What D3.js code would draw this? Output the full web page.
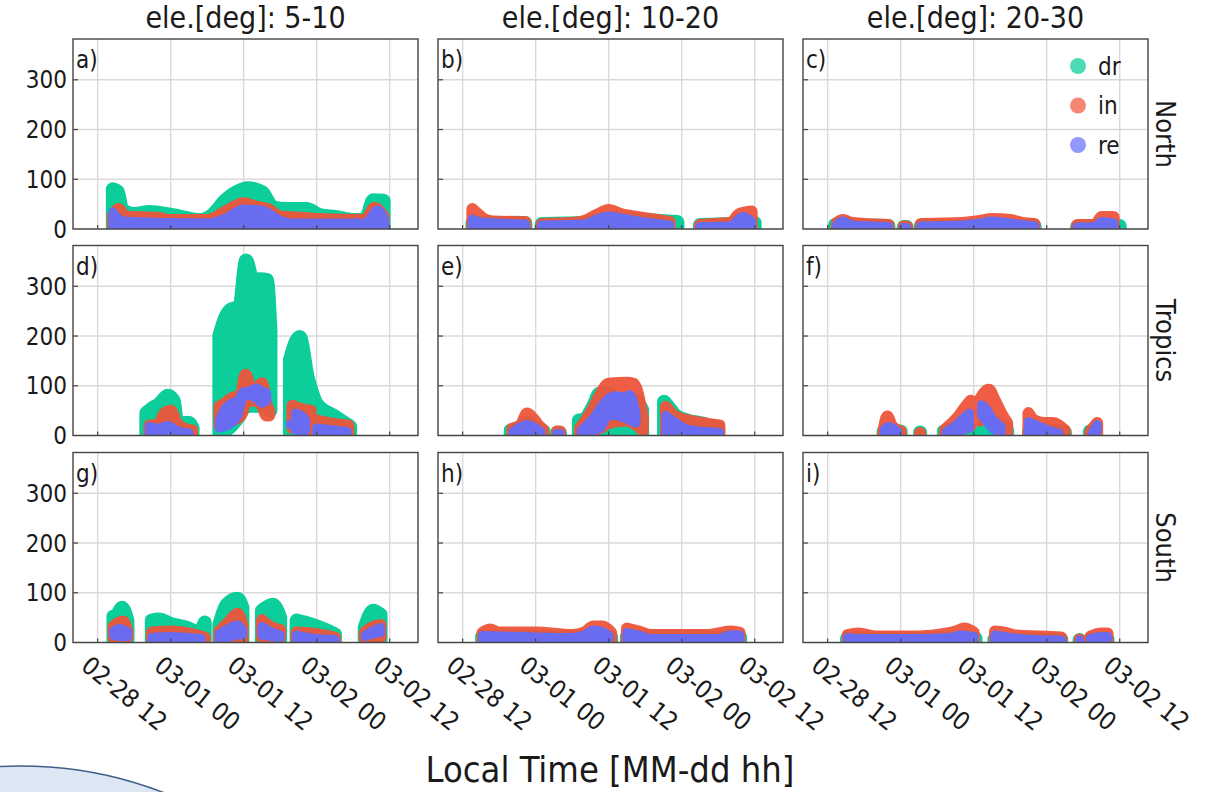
<!DOCTYPE html>
<html><head><meta charset="utf-8">
<script src="https://cdn.jsdelivr.net/npm/d3@7"></script>
<style>
html,body{margin:0;padding:0;background:#fff;}
svg text{font-family:"DejaVu Sans Condensed","DejaVu Sans",sans-serif;font-stretch:condensed;fill:#1a1a1a;}
</style></head>
<body><svg id="c" width="1217" height="792"></svg>
<script>
// ---- DATA (hours after 02-28 12:00 local, value low, value high) ----
const colTitles = ["ele.[deg]: 5-10","ele.[deg]: 10-20","ele.[deg]: 20-30"];
const rowTitles = ["North","Tropics","South"];
const panelLetters = ["a)","b)","c)","d)","e)","f)","g)","h)","i)"];
const seriesNames = ["dr","in","re"];
const seriesColors = ["#00CC96","#EF553B","#636EFA"];
const yTicks = [0,100,200,300];
const xTickTimes = ["2023-02-28T12:00Z","2023-03-01T00:00Z","2023-03-01T12:00Z","2023-03-02T00:00Z","2023-03-02T12:00Z"];
const xTickLabels = ["02-28 12","03-01 00","03-01 12","03-02 00","03-02 12"];
const xTitle = "Local Time [MM-dd hh]";

// North, 5-10
const aDr = [[[2.5,2,80],[3.3,2,75],[4,2,40],[5.8,2,30],[8.5,2,34],[12.3,2,28],[16.8,2,18],[19,2,30],[21,2,58],[22.8,2,74],[24.7,2,82],[27,2,74],[28.8,2,44],[31,2,40],[34.3,2,40],[36.5,2,28],[39.2,2,24],[42,2,18],[44,2,18],[45.3,2,58],[47,2,57]]];
const aIn = [[[2.5,2,28],[3.5,2,40],[4.5,2,25],[10,2,22],[12,2,18],[18,2,18],[21,2,35],[24,2,52],[26,2,45],[28,2,40],[30,2,25],[34,2,22],[36,2,20],[44,2,18],[45.5,2,42],[47,2,25]]];
const aRe = [[[2.5,2,34],[3.5,2,20],[5,2,15],[18,2,12],[21,2,22],[24,2,40],[27,2,38],[30,2,18],[32,2,12],[44,2,12],[46,2,38],[47.2,2,18]]];
// North, 10-20
const bDr = [[[1.6,2,12],[10.3,2,12]],[[13,2,10],[20,2,12],[24,2,22],[30,2,18],[35.3,2,14]],[[39,2,8],[44,2,10],[46,2,18],[48,2,12]]];
const bIn = [[[1.6,2,40],[2.5,2,30],[3.5,2,20],[5,2,15],[10.3,2,14]],[[13,2,10],[18,2,12],[20,2,16],[22,2,28],[24,2,38],[26,2,30],[30,2,22],[34,2,14]],[[39,2,8],[41,2,10],[44,2,12],[45.5,2,30],[47.5,2,35]]];
const bRe = [[[1.6,2,20],[3,2,14],[10.3,2,10]],[[13,2,8],[20,2,10],[22,2,20],[24,2,26],[26,2,22],[30,2,14],[34,2,8]],[[39,2,5],[44,2,6],[46,2,25],[47.5,2,15]]];
// North, 20-30
const cDr = [[[1.2,2,8],[10,2,6]],[[12.5,2,4],[13,2,4]],[[15.3,2,6],[34,2,6]],[[41,2,4],[48,2,6]]];
const cIn = [[[1.5,2,12],[2.5,2,18],[4,2,12],[10,2,8]],[[12.5,2,5],[13,2,5]],[[15.3,2,10],[22,2,12],[25,2,16],[27,2,20],[30,2,18],[32,2,12],[34,2,10]],[[41,2,8],[44,2,8],[45,2,24],[47,2,24]]];
const cRe = [[[1.5,2,8],[2.5,2,16],[4,2,8],[10,2,5]],[[12.5,2,3],[13,2,3]],[[15.3,2,6],[22,2,8],[25,2,12],[27,2,16],[30,2,12],[34,2,6]],[[41,2,4],[44,2,5],[45,2,15],[47,2,12]]];
// Tropics, 5-10
const dDr = [[[8,3,45],[9,3,55],[10,3,62],[11,3,75],[11.5,3,80],[12.5,3,70],[13,3,30],[14,3,25],[15,3,25],[15.6,3,15]],
             [[20,5,200],[21,10,238],[22,20,254],[23.3,40,258],[24.4,60,352],[25.5,60,312],[26.6,60,314],[27.8,55,313],[28.4,50,210]],
             [[31.6,5,152],[33.2,5,198],[34.5,5,118],[35.3,3,84],[36,3,64],[39,3,38],[41.5,3,18]]];
const dIn = [[[8.5,2,20],[10,2,22],[11,2,45],[12,2,50],[13,2,25],[14,2,15],[15.5,2,10]],
             [[20,20,58],[21,25,65],[22,30,75],[23.5,40,80],[24.3,65,122],[25,70,100],[26,70,90],[27,60,105],[27.8,40,60],[28.2,40,50]],
             [[32,15,60],[33,15,55],[35,10,50]],[[36,2,30],[38,2,25],[41.2,2,20]]];
const dRe = [[[8.5,2,18],[10,2,15],[11.5,2,20],[13,2,10],[15,2,5]],
             [[20,15,30],[21,18,55],[22,25,65],[23,40,70],[24,80,88],[25,80,90],[26,75,95],[27,65,90],[27.8,70,85]],
             [[31.6,22,22]],[[32.5,10,45],[33.5,10,40],[34.2,10,30]],[[36,2,15],[38,2,12],[41,2,8]]];
// Tropics, 10-20
const eDr = [[[7.9,2,10],[9,2,14],[10.6,2,25],[12,2,15],[13.3,2,8]],[[15.5,2,5],[16,2,5]],
             [[19.1,2,30],[20,2,32],[21.5,2,60],[22.5,2,84],[24,2,84],[25.5,2,70],[27,2,75],[28.5,2,70],[29.5,2,52]],
             [[33.1,2,68],[34,2,55],[35,2,40],[37,2,30],[39,2,25],[42,2,15]]];
const eIn = [[[8.2,2,14],[9.5,2,20],[10.6,2,44],[11.5,2,35],[12.5,2,20],[13.2,2,12]],[[15.5,2,8],[16,2,8]],
             [[19.3,5,15],[20.2,5,30],[21.5,10,55],[22.6,15,82],[24,25,104],[27,30,106],[28.1,25,104],[29.2,15,62],[29.6,10,36]],
             [[33.4,5,58],[35,5,38],[37.2,2,30],[40,2,24],[42.2,2,20]]];
const eRe = [[[8.3,2,8],[10.6,2,22],[12.8,2,8]],[[15.5,3,4],[16,3,4]],
             [[19.5,5,10],[20.5,5,22],[21.5,10,35],[22.6,15,55],[24,40,75],[25,40,80],[26.5,35,78],[27.5,30,82],[28.5,25,45]],
             [[33.4,5,40],[35,5,26],[37.2,2,12],[42.2,2,6]]];
// Tropics, 20-30
const fDr = [[[9.2,2,8],[12,2,8]],[[15.2,2,6]],[[19.1,2,8],[22,2,14],[23.4,2,14]],[[25.7,2,22],[27,2,28],[29.5,2,12]],[[33.1,2,8],[36,2,10],[39,2,6]],[[43.1,2,8],[43.8,2,8]]];
const fIn = [[[9.2,2,10],[9.8,5,38],[10.5,2,20],[12,2,8]],[[15.2,2,5]],
             [[19.3,2,12],[20.5,5,25],[21.5,10,38],[22.5,15,55],[23.5,20,70]],
             [[25,30,72],[26.5,40,92],[27.5,25,70],[28.5,10,45],[29.5,5,25]],
             [[33,2,45],[34,2,30],[35.5,2,25],[37,2,25],[39,2,10]],[[43.2,2,8],[44.3,2,25]]];
const fRe = [[[9.3,3,12],[10,3,18],[11.5,3,8]],
             [[19.5,3,8],[21,5,20],[22,10,32],[23.3,15,45]],
             [[25.3,40,62],[26,30,55],[27,15,35],[28.5,5,18]],
             [[33,3,28],[34.5,3,20],[36,3,12],[38,3,5]],[[43.5,3,5],[44.3,8,22]]];
// South, 5-10
const gDr = [[[2.6,3,52],[3.2,3,56],[4,3,70],[4.9,3,44]],
             [[8.9,3,44],[10,3,46],[12.3,3,36],[14.6,3,30],[16.5,3,20],[17.6,3,40]],
             [[20,3,36],[21.2,3,76],[23,3,88],[23.8,3,70]],
             [[27,3,64],[28.8,3,76],[30,3,50]],
             [[32.7,3,44],[34,3,40],[36.5,3,30],[39,3,16]],
             [[43.9,3,30],[45.3,3,64],[46.5,3,56]]];
const gIn = [[[2.6,10,32],[3.5,10,40],[4.2,10,42],[4.9,10,22]],
             [[8.9,2,20],[12,2,22],[14,2,20],[17.6,2,10]],
             [[20,2,22],[21.5,5,40],[23,8,58],[23.8,5,35]],
             [[27,10,45],[28,10,35],[30,10,25]],
             [[32.7,2,20],[35,2,18],[39,2,10]],
             [[43.9,8,20],[45,10,30],[46.5,10,35]]];
const gRe = [[[2.6,15,22],[3.5,12,28],[4.9,12,22]],
             [[8.9,2,10],[12,2,12],[17,2,8]],
             [[20,5,18],[21.5,10,28],[23,15,35],[23.8,15,25]],
             [[27,15,32],[28.5,12,22],[30,10,15]],
             [[32.7,2,15],[36,2,8],[39,2,6]],
             [[44,12,15],[45.5,18,25],[46.5,20,30]]];
// South, 10-20
const hDr = [[[3.2,2,12],[24.4,2,10]],[[27,2,12],[45.6,2,10]]];
const hIn = [[[3.3,5,20],[4.5,5,26],[6,5,20],[12,5,20],[18,2,15],[20,5,20],[21.5,10,32],[23,10,32],[24.4,5,20]],
             [[27,5,28],[29,5,22],[31,2,15],[40,2,15],[42,2,18],[44,5,22],[45.5,5,20]]];
const hRe = [[[3.3,5,14],[10,5,12],[18,2,10],[20,5,15],[21.5,8,25],[23,8,22],[24,5,14]],
             [[27,5,20],[29,5,15],[31,2,8],[42,2,8],[44,5,15],[45.5,5,15]]];
// South, 20-30
const iDr = [[[3.2,2,8],[24.3,2,8]],[[27.4,2,6],[38.4,2,6]],[[41.4,2,5]],[[43.2,2,6],[46,2,6]]];
const iIn = [[[3.3,5,15],[5,5,18],[8,2,12],[15,2,12],[18,2,15],[21,5,22],[22.5,8,28],[24,5,20]],
             [[27.5,5,22],[29,5,20],[31,2,14],[35,2,12],[38.4,2,10]],[[41.4,4,6]],
             [[43.2,3,12],[45,5,18],[46,5,18]]];
const iRe = [[[3.3,5,10],[5,5,8],[15,3,8],[20,3,10],[22,5,15],[24,5,12]],
             [[27.5,5,15],[30,3,10],[34,2,6],[38.4,2,5]],[[41.4,5,5]],
             [[43.2,3,8],[45,5,12],[46,8,12]]];

const panelSeries = [[aDr,aIn,aRe],[bDr,bIn,bRe],[cDr,cIn,cRe],
                     [dDr,dIn,dRe],[eDr,eIn,eRe],[fDr,fIn,fRe],
                     [gDr,gIn,gRe],[hDr,hIn,hRe],[iDr,iIn,iRe]];

// ---- LAYOUT ----
const colX = [73, 438, 803];
const rowY = [39, 245.5, 452.5];
const PW = 345, PH = 190;
const base = Date.UTC(2023,1,28,12);
const T = h => new Date(base + h*3600e3);
const x = d3.scaleUtc().domain([T(-4.05), T(52.65)]).range([0, PW]);
const y = d3.scaleLinear().domain([0, 382]).range([PH, 0]);
const widths = [14, 12, 9];

const svg = d3.select("#c");

// decorative slide ellipse (bottom-left)
svg.append("ellipse").attr("cx",20).attr("cy",1000).attr("rx",310).attr("ry",234)
  .attr("fill","#dde7f3").attr("stroke","#3f5f8a").attr("stroke-width",1.5);

const defs = svg.append("defs");
const area = d3.area().x(d=>x(T(d[0]))).y0(d=>y(d[1])).y1(d=>y(d[2])).curve(d3.curveMonotoneX);

panelSeries.forEach((ser, i) => {
  const r = Math.floor(i/3), c = i%3;
  const g = svg.append("g").attr("transform", `translate(${colX[c]},${rowY[r]})`);
  defs.append("clipPath").attr("id","clip"+i).append("rect").attr("width",PW).attr("height",PH);
  // grid
  g.selectAll(".gy").data(yTicks).join("line")
    .attr("x1",0).attr("x2",PW).attr("y1",d=>y(d)).attr("y2",d=>y(d))
    .attr("stroke","#dadada").attr("stroke-width",1.4);
  g.selectAll(".gx").data(xTickTimes).join("line")
    .attr("x1",d=>x(new Date(d))).attr("x2",d=>x(new Date(d))).attr("y1",0).attr("y2",PH)
    .attr("stroke","#dadada").attr("stroke-width",1.4);
  // data
  const dg = g.append("g").attr("clip-path",`url(#clip${i})`);
  ser.forEach((segs, s) => {
    const col = seriesColors[s], w = widths[s];
    const sg = dg.append("g").attr("opacity",0.95);
    segs.forEach(seg => {
      if (seg.length === 1) {
        const d = seg[0];
        sg.append("path")
          .attr("d", d3.line()([[x(T(d[0])), y(d[1])],[x(T(d[0])), y(d[2])]]))
          .attr("fill","none").attr("stroke",col).attr("stroke-width",w).attr("stroke-linecap","round");
      } else {
        sg.append("path").attr("d", area(seg))
          .attr("fill",col).attr("stroke",col).attr("stroke-width",w)
          .attr("stroke-linejoin","round").attr("stroke-linecap","round");
      }
    });
  });
  // frame
  g.append("rect").attr("width",PW).attr("height",PH).attr("fill","none")
    .attr("stroke","#444").attr("stroke-width",1.4);
  // inside ticks
  g.selectAll(".ty").data(yTicks.slice(1)).join("line")
    .attr("x1",0).attr("x2",5).attr("y1",d=>y(d)).attr("y2",d=>y(d))
    .attr("stroke","#444").attr("stroke-width",1.2);
  g.selectAll(".tx").data(xTickTimes).join("line")
    .attr("x1",d=>x(new Date(d))).attr("x2",d=>x(new Date(d))).attr("y1",PH).attr("y2",PH-4)
    .attr("stroke","#444").attr("stroke-width",1.2);
  // panel letter
  g.append("text").attr("x",3).attr("y",29).attr("font-size",24).text(panelLetters[i]);
  // y tick labels
  if (c === 0) {
    g.selectAll(".yl").data(yTicks).join("text")
      .attr("x",-6).attr("y",d=>y(d)).attr("dy","0.36em").attr("text-anchor","end")
      .attr("font-size",24).text(d=>d);
  }
  // x tick labels
  if (r === 2) {
    g.selectAll(".xl").data(xTickTimes).join("text")
      .attr("transform",(d)=>`translate(${x(new Date(d))-18},${PH+26}) rotate(39)`)
      .attr("font-size",25).text((d,k)=>xTickLabels[k]);
  }
  if (r === 0) {
    g.append("text").attr("x",PW/2).attr("y",-11).attr("text-anchor","middle")
      .attr("font-size",30).text(colTitles[c]);
  }
  if (c === 2) {
    g.append("text").attr("transform",`translate(${PW+8},${PH/2}) rotate(90)`)
      .attr("text-anchor","middle").attr("font-size",27).text(rowTitles[r]);
  }
  if (i === 2) {
    const lg = g.append("g");
    seriesNames.forEach((nm, k) => {
      const ly = 27 + k*39.5;
      lg.append("circle").attr("cx",275).attr("cy",ly).attr("r",8)
        .attr("fill",seriesColors[k]).attr("fill-opacity",0.7);
      lg.append("text").attr("x",295).attr("y",ly).attr("dy","0.36em").attr("font-size",24).text(nm);
    });
  }
});

svg.append("text").attr("x",610).attr("y",782).attr("text-anchor","middle")
  .attr("font-size",36).text(xTitle);
</script></body></html>
